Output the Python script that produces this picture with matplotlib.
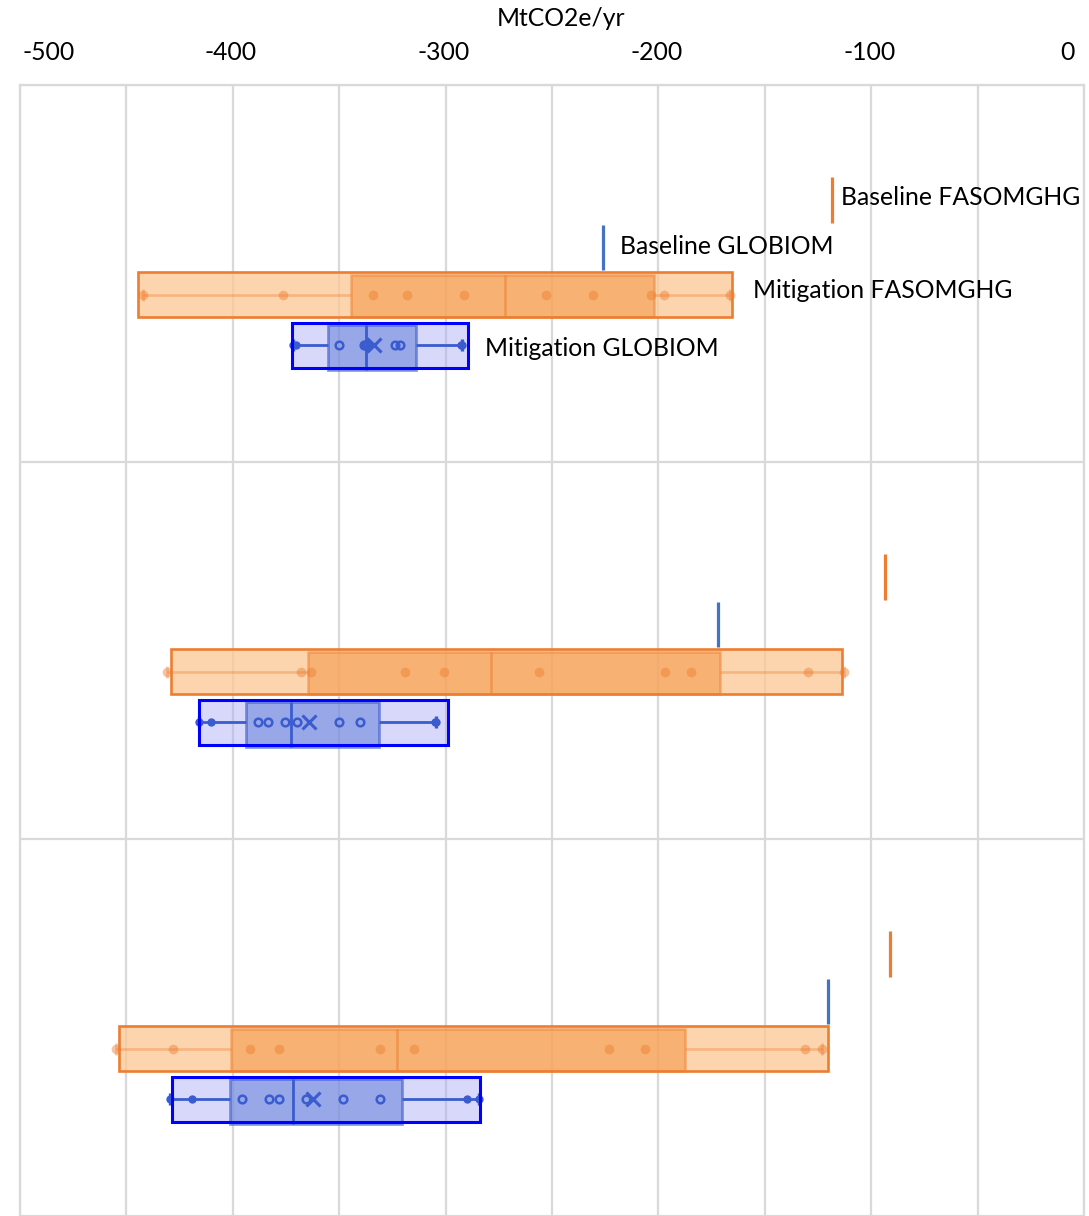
import numpy as np
import matplotlib.pyplot as plt
from matplotlib.transforms import blended_transform_factory

plt.rcParams['font.family'] = ['Lato', 'DejaVu Sans']

# baseline sequestration per case (top to bottom), MtCO2e/yr
base_fasom = [-118.4, -93.5, -91.2]
base_globiom = [-226.0, -172.0, -120.3]

# mitigation scenario results per case
mit_fasom = [
    [-442.2, -376.4, -334.1, -318.1, -291.4, -252.8, -230.7, -203.5, -197.4, -166.4],
    [-430.9, -368.1, -363.3, -319.3, -300.8, -256.1, -196.9, -184.7, -129.7, -112.8],
    [-455.0, -428.2, -392.0, -378.5, -330.8, -314.7, -223.4, -206.1, -131.2, -122.9],
]
mit_globiom = [
    [-371.5, -370.5, -350.3, -338.5, -338.0, -336.8, -323.6, -321.2, -292.8, -292.5],
    [-415.9, -410.2, -388.3, -383.3, -375.5, -369.7, -350.1, -340.2, -305.0, -304.5],
    [-429.4, -419.0, -395.6, -383.0, -378.1, -365.7, -348.4, -330.9, -290.0, -284.1],
]

# shaded range bands behind the boxes
fasom_range = [(-444.5, -165.4), (-429.0, -113.7), (-453.3, -120.3)]
globiom_range = [(-372.0, -289.5), (-415.9, -299.0), (-428.7, -283.6)]

tick_vals = [-500, -400, -300, -200, -100, 0]
tick_labels = ['-500', '-400', '-300', '-200', '-100', '0']

ORANGE = '#ED7D31'
BLUE = '#4472C4'
BOX_BLUE = '#3A5CCF'
FS = 17.8

fig = plt.figure(figsize=(10.89, 12.16), dpi=100)
ax = fig.add_axes([20 / 1089, 0, 1064 / 1089, 1131 / 1216])
ax.set_xlim(-500, 0)
ax.set_ylim(3, 0)

# grid every 50, category separators
ax.set_xticks(np.arange(-500, 1, 50))
ax.set_yticks([0, 1, 2, 3])
ax.grid(True, color='#D9D9D9', lw=1.6, zorder=0)
ax.set_axisbelow(True)
ax.tick_params(length=0, labelbottom=False, labelleft=False)
for side, sp in ax.spines.items():
    sp.set_color('#D9D9D9')
    sp.set_linewidth(1.6)
ax.spines['bottom'].set_visible(False)

# row offsets inside each category
y_bf, y_bg, y_mf, y_mg = 0.305, 0.431, 0.556, 0.690
h = 0.12


def box(vals, rng, y, kind):
    q1, med, q3 = np.percentile(vals, [25, 50, 75], method='weibull')
    lo, hi = min(vals), max(vals)
    cap = 0.016
    if kind == 'fasom':
        ax.barh(y, rng[1] - rng[0], left=rng[0], height=h, color='#FCC793', alpha=0.75,
                lw=0, zorder=2)
        yi, hi_ = y + 0.004, h * 0.94
        ax.barh(yi, q3 - q1, left=q1, height=hi_, color='#F38F38', alpha=0.5,
                edgecolor=(0.93, 0.49, 0.19, 0.55), lw=1.8, zorder=3)
        ax.vlines(med, yi - hi_ / 2, yi + hi_ / 2, color=ORANGE, alpha=0.55, lw=1.8, zorder=4)
        ax.hlines([y, y], [lo, q3], [q1, hi], color=ORANGE, alpha=0.35, lw=2, zorder=4)
        ax.vlines([lo, hi], y - cap, y + cap, color=ORANGE, alpha=0.35, lw=2, zorder=4)
        ax.plot(vals, [y] * len(vals), 'o', color=ORANGE, alpha=0.45, ms=7, mew=0, zorder=5)
        ax.barh(y, rng[1] - rng[0], left=rng[0], height=h, fill=False,
                edgecolor=ORANGE, lw=1.9, zorder=6)
    else:
        ax.barh(y, rng[1] - rng[0], left=rng[0], height=h, color='#AAAAF5', alpha=0.45,
                lw=0, zorder=2)
        yi = y + 0.006
        ax.barh(yi, q3 - q1, left=q1, height=h, color='#6C87DC', alpha=0.6,
                edgecolor=BOX_BLUE, lw=2, zorder=3)
        ax.vlines(med, yi - h / 2, yi + h / 2, color=BOX_BLUE, lw=2, zorder=4)
        ax.hlines([y, y], [lo, q3], [q1, hi], color=BOX_BLUE, lw=2, zorder=4)
        ax.vlines([lo, hi], y - cap, y + cap, color=BOX_BLUE, lw=2.4, zorder=4)
        v = np.array(vals)
        inside = (v >= q1) & (v <= q3)
        ax.plot(v[inside], [y] * inside.sum(), 'o', mfc='none', mec=BOX_BLUE,
                ms=5.5, mew=1.8, zorder=5)
        ax.plot(v[~inside], [y] * (~inside).sum(), 'o', color=BOX_BLUE,
                ms=6, mew=0, zorder=5)
        ax.plot(np.mean(v), y, 'x', color=BOX_BLUE, ms=10, mew=2.2, zorder=5)
        ax.barh(y, rng[1] - rng[0], left=rng[0], height=h, fill=False,
                edgecolor='#0000FF', lw=2.2, zorder=6)


for i in range(3):
    ax.vlines(base_fasom[i], i + y_bf - h / 2, i + y_bf + h / 2, color=ORANGE, lw=2.3, zorder=4)
    ax.vlines(base_globiom[i], i + y_bg - h / 2, i + y_bg + h / 2, color=BLUE, lw=2.3, zorder=4)
    box(mit_fasom[i], fasom_range[i], i + y_mf, 'fasom')
    box(mit_globiom[i], globiom_range[i], i + y_mg, 'globiom')

# series labels next to the first case
lab = dict(textcoords='offset pixels', va='center', ha='left', fontsize=FS, color='#000000')
ax.annotate('Baseline FASOMGHG', (base_fasom[0], y_bf), xytext=(9, 2), **lab)
ax.annotate('Baseline GLOBIOM', (base_globiom[0], y_bg), xytext=(17, 1), **lab)
ax.annotate('Mitigation FASOMGHG', (fasom_range[0][1], y_mf), xytext=(21, 4), **lab)
ax.annotate('Mitigation GLOBIOM', (globiom_range[0][1], y_mg), xytext=(17, -3), **lab)

# value axis labels along the top
tr = blended_transform_factory(ax.transData, ax.transAxes)
for v, s in zip(tick_vals, tick_labels):
    ha, dx = 'center', -2
    if v == tick_vals[0]:
        ha, dx = 'left', 3
    elif v == tick_vals[-1]:
        ha, dx = 'right', -9
    ax.annotate(s, (v, 1), xycoords=tr, xytext=(dx, 32), textcoords='offset pixels',
                ha=ha, va='center', fontsize=FS, color='#000000', annotation_clip=False)

fig.text(561 / 1089, 1 - 19 / 1216, 'MtCO2e/yr', ha='center', va='center', fontsize=FS)

fig.savefig('out.png', dpi=100)
